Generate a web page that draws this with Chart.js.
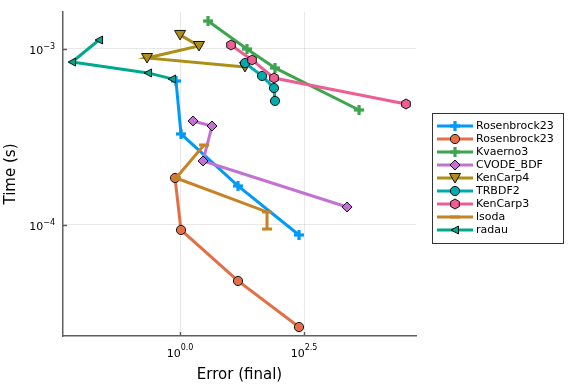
<!DOCTYPE html>
<html><head><meta charset="utf-8">
<script src="https://cdn.jsdelivr.net/npm/chart.js@4.4.1/dist/chart.umd.min.js"></script>
<style>html,body{margin:0;padding:0;background:#fff}#wrap{width:576px;height:384px;position:relative}</style>
</head><body><div id="wrap"><canvas id="c" width="576" height="384"></canvas></div>
<script>
// ---- data ----
const seriesNames = ['Rosenbrock23','Rosenbrock23','Kvaerno3','CVODE_BDF','KenCarp4','TRBDF2','KenCarp3','lsoda','radau'];
const rosenbrock23aError = [0.830, 1.047, 14.76, 250.6];
const rosenbrock23aTime  = [6.58e-4, 3.29e-4, 1.667e-4, 8.77e-5];
const rosenbrock23bError = [0.793, 1.047, 14.76, 250.6];
const rosenbrock23bTime  = [1.849e-4, 9.37e-5, 4.81e-5, 2.63e-5];
const kvaerno3Error = [3.67, 22.4, 82.2, 4064];
const kvaerno3Time  = [1.442e-3, 1.0e-3, 7.80e-4, 4.50e-4];
const cvodeError = [1.828, 4.416, 2.911, 2328];
const cvodeTime  = [3.90e-4, 3.65e-4, 2.31e-4, 1.265e-4];
const kenCarp4Error = [1.0, 2.415, 0.2163, 20.4];
const kenCarp4Time  = [1.202e-3, 1.04e-3, 8.89e-4, 7.91e-4];
const trbdf2Error = [20.4, 45.0, 78.5, 82.2];
const trbdf2Time  = [8.32e-4, 7.03e-4, 6.00e-4, 5.07e-4];
const kenCarp3Error = [10.67, 28.3, 78.5, 35975];
const kenCarp3Time  = [1.054e-3, 8.66e-4, 6.84e-4, 4.87e-4];
const lsodaError = [3.05, 0.830, 56.8, 56.8];
const lsodaTime  = [2.85e-4, 1.849e-4, 1.186e-4, 9.48e-5];
const radauError = [0.02328, 0.006653, 0.2265, 0.690];
const radauTime  = [1.125e-3, 8.43e-4, 7.31e-4, 6.76e-4];

const xTickValues = [1, 316.228];
const xTickLabels = [['10','0.0'], ['10','2.5']];
const yTickValues = [1e-4, 1e-3];
const yTickLabels = [['10','\u22124'], ['10','\u22123']];
const xTitle = 'Error (final)';
const yTitle = 'Time (s)';

const errs  = [rosenbrock23aError, rosenbrock23bError, kvaerno3Error, cvodeError, kenCarp4Error, trbdf2Error, kenCarp3Error, lsodaError, radauError];
const times = [rosenbrock23aTime, rosenbrock23bTime, kvaerno3Time, cvodeTime, kenCarp4Time, trbdf2Time, kenCarp3Time, lsodaTime, radauTime];
const colors = ['#009AFA','#E36F47','#3EA44E','#C371D2','#AC8E18','#00AAAE','#ED5E93','#C68225','#00A98D'];
const shapes = ['cross','circle','cross','diamond','dtriangle','circle','hexagon','hline','ltriangle'];

const FONT = '"DejaVu Sans", sans-serif';

function makeMarker(kind, fill) {
  const S = 16, m = S / 2;
  const c = document.createElement('canvas');
  c.width = S; c.height = S;
  const g = c.getContext('2d');
  g.fillStyle = fill; g.strokeStyle = 'rgba(0,0,0,0.9)'; g.lineWidth = 1;
  g.beginPath();
  if (kind === 'circle') { g.arc(m, m, 4.6, 0, Math.PI * 2); g.fill(); g.stroke(); }
  else if (kind === 'diamond') { g.moveTo(m, m - 5); g.lineTo(m + 5, m); g.lineTo(m, m + 5); g.lineTo(m - 5, m); g.closePath(); g.fill(); g.stroke(); }
  else if (kind === 'dtriangle') { g.moveTo(m - 5.5, m - 4.5); g.lineTo(m + 5.5, m - 4.5); g.lineTo(m, m + 5); g.closePath(); g.fill(); g.stroke(); }
  else if (kind === 'ltriangle') { g.moveTo(m - 4, m); g.lineTo(m + 3.5, m - 4); g.lineTo(m + 3.5, m + 4); g.closePath(); g.fill(); g.stroke(); }
  else if (kind === 'hexagon') {
    for (let i = 0; i < 6; i++) { const a = Math.PI / 6 + i * Math.PI / 3; const px = m + 5 * Math.cos(a), py = m + 5 * Math.sin(a); i ? g.lineTo(px, py) : g.moveTo(px, py); }
    g.closePath(); g.fill(); g.stroke();
  }
  else if (kind === 'cross') { g.fillRect(m - 5, m - 1.6, 10, 3.2); g.fillRect(m - 1.6, m - 5, 3.2, 10); }
  else if (kind === 'hline') { g.fillStyle = fill; g.fillRect(m - 5, m - 1.5, 10, 3); }
  return c;
}
const markers = shapes.map((s, i) => makeMarker(s, colors[i]));

const datasets = seriesNames.map((name, i) => ({
  label: name,
  data: errs[i].map((e, k) => ({ x: e, y: times[i][k] })),
  showLine: true,
  borderColor: colors[i],
  backgroundColor: colors[i],
  borderWidth: 3,
  tension: 0,
  pointStyle: markers[i],
  pointRadius: 5,
  order: 100 - i
}));

const decorPlugin = {
  id: 'decor',
  beforeDatasetsDraw(chart) {
    const ctx = chart.ctx, ca = chart.chartArea, xs = chart.scales.x, ys = chart.scales.y;
    ctx.save();
    ctx.strokeStyle = '#606060'; ctx.lineWidth = 1.5;
    xTickValues.forEach(v => { const px = Math.round(xs.getPixelForValue(v)) + 0.5; ctx.beginPath(); ctx.moveTo(px, ca.bottom); ctx.lineTo(px, ca.bottom - 4); ctx.stroke(); });
    yTickValues.forEach(v => { const py = Math.round(ys.getPixelForValue(v)) + 0.5; ctx.beginPath(); ctx.moveTo(ca.left, py); ctx.lineTo(ca.left + 4, py); ctx.stroke(); });
    ctx.restore();
  },
  afterDraw(chart) {
    const ctx = chart.ctx, ca = chart.chartArea, xs = chart.scales.x, ys = chart.scales.y;
    ctx.save();
    ctx.fillStyle = '#000';
    ctx.textBaseline = 'alphabetic';
    // x tick labels
    xTickValues.forEach((v, i) => {
      const px = xs.getPixelForValue(v);
      ctx.font = '11px ' + FONT; const w1 = ctx.measureText(xTickLabels[i][0]).width;
      ctx.font = '8px ' + FONT; const w2 = ctx.measureText(xTickLabels[i][1]).width;
      const x0 = px - (w1 + w2) / 2;
      ctx.font = '11px ' + FONT; ctx.textAlign = 'left'; ctx.fillText(xTickLabels[i][0], x0, 357);
      ctx.font = '8px ' + FONT; ctx.fillText(xTickLabels[i][1], x0 + w1, 350);
    });
    // y tick labels
    yTickValues.forEach((v, i) => {
      const py = ys.getPixelForValue(v);
      ctx.font = '8px ' + FONT; const w2 = ctx.measureText(yTickLabels[i][1]).width;
      const xr = 55;
      ctx.textAlign = 'left';
      ctx.fillText(yTickLabels[i][1], xr - w2, py);
      ctx.font = '11px ' + FONT; ctx.textAlign = 'right';
      ctx.fillText(yTickLabels[i][0], xr - w2, py + 5);
    });
    // legend
    const lx = 432.5, ly = 113.5, lw = 131, lh = 130;
    ctx.fillStyle = '#fff'; ctx.fillRect(lx, ly, lw, lh);
    ctx.strokeStyle = '#333'; ctx.lineWidth = 1; ctx.strokeRect(lx, ly, lw, lh);
    seriesNames.forEach((name, i) => {
      const y = 126 + 13 * i;
      ctx.strokeStyle = colors[i]; ctx.lineWidth = 3; ctx.lineCap = 'butt';
      ctx.beginPath(); ctx.moveTo(437, y); ctx.lineTo(473, y); ctx.stroke();
      ctx.drawImage(markers[i], 455 - 8, y - 8);
      ctx.fillStyle = '#000'; ctx.font = '11px ' + FONT; ctx.textAlign = 'left'; ctx.textBaseline = 'middle';
      ctx.fillText(name, 476, y + 0.5);
    });
    ctx.restore();
  }
};

new Chart(document.getElementById('c'), {
  type: 'scatter',
  data: { datasets },
  options: {
    responsive: false,
    animation: false,
    devicePixelRatio: 1,
    layout: { padding: { top: 12, right: 160, left: 0, bottom: 0 } },
    plugins: { legend: { display: false }, tooltip: { enabled: false } },
    scales: {
      x: {
        type: 'logarithmic',
        min: 0.004375, max: 57280,
        afterBuildTicks(s) { s.ticks = xTickValues.map(v => ({ value: v })); },
        afterFit(s) { s.height = 48; },
        ticks: { display: false },
        grid: { color: 'rgba(0,0,0,0.09)', lineWidth: 1, drawTicks: false },
        border: { color: '#606060', width: 1.5 },
        title: { display: true, text: xTitle, color: '#000', font: { family: FONT, size: 15 }, padding: { top: 3, bottom: 0 } }
      },
      y: {
        type: 'logarithmic',
        min: 2.339e-5, max: 1.622e-3,
        afterBuildTicks(s) { s.ticks = yTickValues.map(v => ({ value: v })); },
        afterFit(s) { s.width = 63; },
        ticks: { display: false },
        grid: { color: 'rgba(0,0,0,0.09)', lineWidth: 1, drawTicks: false },
        border: { color: '#606060', width: 1.5 },
        title: { display: true, text: yTitle, color: '#000', font: { family: FONT, size: 15 }, padding: { top: 2, bottom: 0 } }
      }
    }
  },
  plugins: [decorPlugin]
});
</script>
</body></html>
